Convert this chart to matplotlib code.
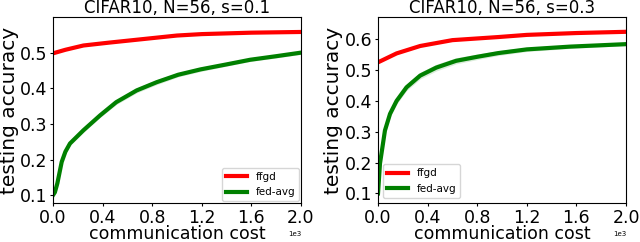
import matplotlib
matplotlib.use('Agg')
import matplotlib.pyplot as plt
import numpy as np

# communication cost (x 1e3) and accuracies
x_ffgd_a = [0.0, 0.1, 0.245, 0.45, 0.67, 1.0, 1.2, 1.6, 2.0]
ffgd_a = [0.498, 0.508, 0.520, 0.528, 0.536, 0.548, 0.552, 0.556, 0.558]
x_fed_a = [0.0, 0.015, 0.035, 0.07, 0.1, 0.137, 0.245, 0.38, 0.51, 0.675, 0.836,
           1.01, 1.19, 1.4, 1.59, 1.8, 2.0]
fed_a = [0.100, 0.108, 0.133, 0.193, 0.222, 0.245, 0.282, 0.324, 0.361, 0.394,
         0.417, 0.438, 0.453, 0.467, 0.480, 0.490, 0.500]
fed_a_err = [0.002, 0.003, 0.004, 0.005, 0.005, 0.005, 0.006, 0.006, 0.007, 0.007,
             0.007, 0.006, 0.006, 0.005, 0.005, 0.005, 0.005]

x_ffgd_b = [0.0, 0.15, 0.34, 0.6, 0.97, 1.2, 1.6, 2.0]
ffgd_b = [0.525, 0.554, 0.578, 0.597, 0.607, 0.614, 0.620, 0.624]
x_fed_b = [0.0, 0.016, 0.056, 0.097, 0.15, 0.23, 0.34, 0.47, 0.63, 0.80, 0.97,
           1.2, 1.55, 2.0]
fed_b = [0.100, 0.197, 0.304, 0.358, 0.400, 0.444, 0.482, 0.508, 0.530, 0.543,
         0.555, 0.567, 0.576, 0.584]
fed_b_err = [0.003, 0.008, 0.010, 0.011, 0.011, 0.011, 0.011, 0.011, 0.010, 0.009,
             0.008, 0.007, 0.006, 0.005]

panels = [
    ('CIFAR10, N=56, s=0.1', x_ffgd_a, ffgd_a, x_fed_a, fed_a, fed_a_err,
     'lower right', 0.15, (0.078, 0.600), [0.1, 0.2, 0.3, 0.4, 0.5]),
    ('CIFAR10, N=56, s=0.3', x_ffgd_b, ffgd_b, x_fed_b, fed_b, fed_b_err,
     'lower left', 0.5, (0.069, 0.672), [0.1, 0.2, 0.3, 0.4, 0.5, 0.6]),
]

fig = plt.figure(figsize=(6.4, 2.42), dpi=100)
lefts = [53 / 640, 378 / 640]
for (title, xf, yf, xg, yg, eg, loc, bpad, ylim, yt), left in zip(panels, lefts):
    ax = fig.add_axes([left, 1 - 203 / 242, 248 / 640, 186 / 242])
    xg = np.array(xg) * 1000
    yg = np.array(yg)
    eg = np.array(eg)
    ax.fill_between(xg, yg - eg, yg + eg, color='green', alpha=0.15, lw=0)
    ax.plot(np.array(xf) * 1000, yf, color='red', lw=3, label='ffgd')
    ax.plot(xg, yg, color='green', lw=3, label='fed-avg')
    ax.set_xlim(0, 2000)
    ax.set_ylim(*ylim)
    ax.set_yticks(yt)
    ax.set_xticks([0, 400, 800, 1200, 1600, 2000])
    ax.ticklabel_format(axis='x', style='sci', scilimits=(0, 0))
    ax.xaxis.get_offset_text().set_fontsize(5)
    ax.tick_params(labelsize=12.5, length=2.5, pad=1.5)
    ax.set_title(title, fontsize=12, pad=0.5)
    ax.set_xlabel('communication cost', fontsize=12.5, labelpad=-1)
    ax.set_ylabel('testing accuracy', fontsize=14.5, labelpad=1)
    ax.legend(loc=loc, fontsize=7.5, borderaxespad=bpad)

fig.savefig('out.png', dpi=100)
